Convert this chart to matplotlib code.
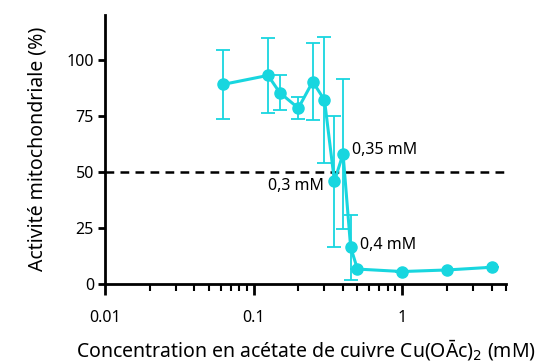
import matplotlib as mpl
mpl.use('agg')
import matplotlib.pyplot as plt
from matplotlib.ticker import LogLocator, NullFormatter
import numpy as np

plt.rcParams['font.family'] = ['Noto Sans', 'DejaVu Sans']

conc = [0.0625, 0.125, 0.15, 0.2, 0.25, 0.3, 0.35, 0.4, 0.45, 0.5, 1, 2, 4]
activity = [89.0, 93.0, 85.3, 78.4, 90.2, 82.0, 45.8, 58.0, 16.4, 6.6, 5.5, 6.2, 7.4]
err = [15.5, 16.6, 7.8, 5.0, 17.3, 28.0, 29.3, 33.6, 14.5, 0.0, 0.0, 0.0, 0.0]

annot_text = ["0,3 mM", "0,35 mM", "0,4 mM"]

cyan = '#18d6df'

fig = plt.figure(figsize=(5.36, 3.63), dpi=100)
ax = fig.add_axes([0.196, 0.218, 0.748, 0.741])

ax.axhline(50, color='black', linestyle=(0, (3.5, 2.5)), linewidth=1.8, zorder=1)
ax.errorbar(conc, activity, yerr=err, fmt='o-', color=cyan, ecolor=cyan,
            linewidth=2.2, markersize=8, elinewidth=1.3, capsize=5, capthick=1.3, zorder=3)

ax.set_xscale('log')
ax.set_xlim(0.01, 5)
ax.set_ylim(0, 120)
ax.set_yticks([0, 25, 50, 75, 100])
ax.set_xticks([0.01, 0.1, 1])
ax.set_xticklabels(['0.01', '0.1', '1'])
ax.xaxis.set_minor_locator(LogLocator(base=10, subs=np.arange(2, 10)))
ax.xaxis.set_minor_formatter(NullFormatter())

for s in ['top', 'right']:
    ax.spines[s].set_visible(False)
for s in ['left', 'bottom']:
    ax.spines[s].set_linewidth(2)

ax.tick_params(axis='x', which='major', length=8, width=2, pad=11, labelsize=11.5)
ax.tick_params(axis='x', which='minor', length=5, width=1.5)
ax.tick_params(axis='y', length=5, width=2, labelsize=11.5, pad=3)

# annotations
ax.text(0.296, 43.5, annot_text[0], ha='right', va='center', fontsize=11.5)
ax.text(0.46, 59.5, annot_text[1], ha='left', va='center', fontsize=11.5)
ax.text(0.52, 17.5, annot_text[2], ha='left', va='center', fontsize=11.5)

ax.set_ylabel('Activité mitochondriale (%)', fontsize=14, labelpad=14)
ax.set_xlabel('Concentration en acétate de cuivre Cu(OĀc)$_2$ (mM)', fontsize=14, labelpad=8)

plt.savefig("out.png", dpi=100)
